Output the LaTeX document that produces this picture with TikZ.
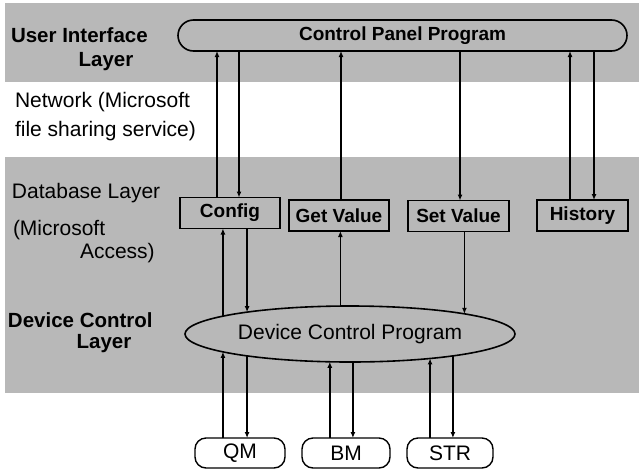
\documentclass[tikz,border=0pt]{standalone}
\usepackage{fontspec}
\setmainfont{Liberation Sans}
\usetikzlibrary{shapes.geometric,shapes.misc,arrows.meta}
\begin{document}
\begin{tikzpicture}[x=1pt,y=-1pt,
  bandfill/.style={fill=black!28,draw=none},
  arr/.style={line width=1.5pt,-{Latex[length=6pt,width=5pt]}},
  lbl/.style={inner sep=0,outer sep=0,font=\fontsize{21}{24}\selectfont},
  blbl/.style={inner sep=0,outer sep=0,font=\bfseries\fontsize{20.5}{24}\selectfont},
  dbbox/.style={draw,line width=1.6pt,rectangle,inner sep=0,outer sep=0,
    minimum height=31pt,font=\bfseries\fontsize{19}{22}\selectfont},
  dev/.style={draw,line width=1.4pt,rectangle,rounded corners=11pt,inner sep=0,outer sep=0,
    minimum height=30pt,font=\fontsize{21}{24}\selectfont}
]
\useasboundingbox (0,0) rectangle (639,469);
% layer bands
\fill[bandfill] (5,3) rectangle (639,82);
\fill[bandfill] (5,157) rectangle (639,393);

% layer labels
\node[blbl,anchor=west] (ui1) at (11,35) {User Interface};
\node[blbl] (ui2) at (106,62) {Layer};
\node[lbl,anchor=west] (nw1) at (15,102) {Network (Microsoft};
\node[lbl,anchor=west] (nw2) at (15,131) {file sharing service)};
\node[lbl,anchor=west] (db1) at (12,193) {Database Layer};
\node[lbl,anchor=west] (db2) at (13,230) {(Microsoft};
\node[lbl,anchor=west] (db3) at (80,253) {Access)};
\node[blbl,anchor=west] (dc1) at (8,320) {Device Control};
\node[blbl] (dc2) at (104,344) {Layer};

% main nodes
\node[rounded rectangle,draw,line width=1.6pt,minimum width=449pt,minimum height=31pt,
  inner sep=0,outer sep=0,font=\bfseries\fontsize{19}{22}\selectfont] (cpp) at (402.5,35.5) {Control Panel Program};
\node[dbbox,minimum width=100pt] (cfg) at (230,213) {Config};
\node[dbbox,minimum width=100pt] (gv) at (339,215.5) {Get Value};
\node[dbbox,minimum width=101pt] (sv) at (458.5,216) {Set Value};
\node[dbbox,minimum width=91pt] (hist) at (582.5,215.5) {History};
\node[ellipse,draw,line width=1.6pt,minimum width=330pt,minimum height=56pt,
  inner sep=0,outer sep=0,font=\fontsize{21}{24}\selectfont] (dcp) at (350,334) {Device Control Program};
\node[dev,minimum width=90pt] (qm) at (240,453) {QM};
\node[dev,minimum width=88pt] (bm) at (346,453) {BM};
\node[dev,minimum width=86pt] (str) at (450,453) {STR};

% UI <-> database
\coordinate (t1) at ([xshift=-13pt]cfg.north);
\coordinate (t2) at ([xshift=9pt]cfg.north);
\coordinate (t3) at ([xshift=2pt]gv.north);
\coordinate (t4) at ([xshift=1.5pt]sv.north);
\coordinate (t5) at ([xshift=-12.5pt]hist.north);
\coordinate (t6) at ([xshift=11.5pt]hist.north);
\draw[arr] (t1) -- (t1 |- cpp.south);
\draw[arr] (t2 |- cpp.south) -- (t2);
\draw[arr] (t3) -- (t3 |- cpp.south);
\draw[arr] (t4 |- cpp.south) -- (t4);
\draw[arr] (t5) -- (t5 |- cpp.south);
\draw[arr] (t6 |- cpp.south) -- (t6);

% database <-> device control
\draw[arr] (dcp.172.75) -- (dcp.172.75 |- cfg.south);
\draw[arr] (dcp.168.91 |- cfg.south) -- (dcp.168.91);
\draw[arr] (dcp.109.69) -- (dcp.109.69 |- gv.south);
\draw[arr] (dcp.10.92 |- sv.south) -- (dcp.10.92);

% device control <-> devices
\draw[arr] (dcp.188.47 |- qm.north) -- (dcp.188.47);
\draw[arr] (dcp.192.36) -- (dcp.192.36 |- qm.north);
\draw[arr] (dcp.234.26 |- bm.north) -- (dcp.234.26);
\draw[arr] (dcp.276.12) -- (dcp.276.12 |- bm.north);
\draw[arr] (dcp.343.99 |- str.north) -- (dcp.343.99);
\draw[arr] (dcp.348.91) -- (dcp.348.91 |- str.north);
\end{tikzpicture}
\end{document}
